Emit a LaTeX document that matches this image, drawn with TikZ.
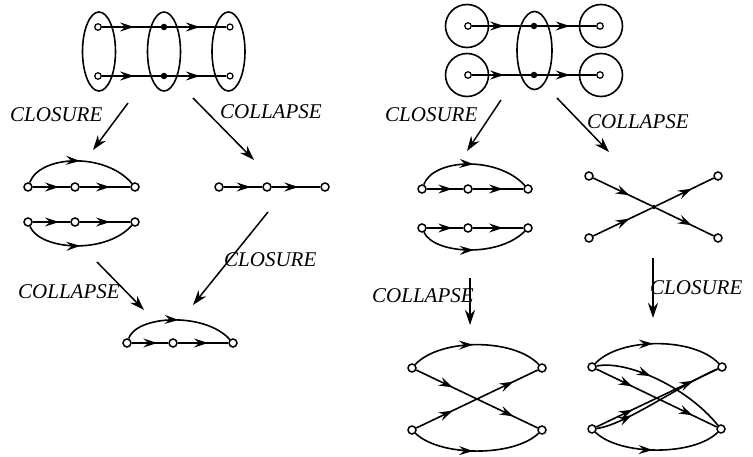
\documentclass[tikz,border=0pt]{standalone}
\usepackage{fontspec}
\setmainfont{Liberation Serif}
\usetikzlibrary{arrows.meta,decorations.markings,shapes.geometric}
\begin{document}
\begin{tikzpicture}[x=1pt,y=-1pt,
 vo/.style={circle,draw,fill=white,inner sep=0pt,minimum size=8pt,line width=1.5pt},
 vd/.style={circle,fill,inner sep=0pt,minimum size=6.5pt},
 vr/.style={circle,draw,fill=white,inner sep=0pt,minimum size=6pt,line width=1.2pt},
 vc/.style={circle,draw,fill=white,inner sep=0pt,minimum size=6.5pt,line width=1.2pt,
   path picture={\fill (path picture bounding box.center) circle (1.3pt);}},
 grp/.style={ellipse,draw,line width=1.6pt,inner sep=0pt,minimum width=33pt,minimum height=79pt},
 ring/.style={circle,draw,line width=1.6pt,inner sep=0pt,minimum size=43pt},
 edge/.style={line width=1.6pt},
 ma/.style={edge,postaction={decorate},decoration={markings,
   mark=at position #1 with {\arrow{Stealth[length=14pt,width=9pt,inset=5pt]}}}},
 ma2/.style 2 args={edge,postaction={decorate},decoration={markings,
   mark=at position #1 with {\arrow{Stealth[length=14pt,width=9pt,inset=5pt]}},
   mark=at position #2 with {\arrow{Stealth[length=14pt,width=9pt,inset=5pt]}}}},
 trans/.style={line width=1.5pt,-{Stealth[length=15pt,width=10pt,inset=5pt]}},
 lab/.style={font=\fontsize{21}{21}\selectfont\itshape,anchor=base west,inner sep=0pt}
]
\useasboundingbox (0,0) rectangle (753,457);

% ---------- top left ----------
\node[grp] (g1) at (99,51.5) {};
\node[grp] (g2) at (164,51.5) {};
\node[grp] (g3) at (228.5,51.5) {};
\node[vc] (p1) at (98,27) {};
\node[vd] (p2) at (164,27) {};
\node[vr] (p3) at (230,27) {};
\node[vc] (q1) at (98,76) {};
\node[vd] (q2) at (164,76) {};
\node[vr] (q3) at (230,76) {};
\draw[ma=0.55] (p1) -- (p2);
\draw[ma=0.55] (p2) -- (p3);
\draw[ma=0.55] (q1) -- (q2);
\draw[ma=0.55] (q2) -- (q3);

% transitions top left
\coordinate (t1s) at (128,103); \coordinate (t1e) at (93,150);
\coordinate (t2s) at (193,98);  \coordinate (t2e) at (254,160);
\draw[trans] (t1s) -- (t1e);
\draw[trans] (t2s) -- (t2e);
\node[lab] (l1) at (10,122) {CLOSURE};
\node[lab] (l2) at (220,119) {COLLAPSE};

% middle left: closure
\node[vo] (a1) at (28,187) {};
\node[vo] (a2) at (75,187) {};
\node[vo] (a3) at (135,187) {};
\draw[ma=0.7] (a1) -- (a2);
\draw[ma=0.6] (a2) -- (a3);
\draw[ma=0.5] (a1) .. controls (40,155) and (105,152) .. (a3);
\node[vo] (b1) at (28,222) {};
\node[vo] (b2) at (75,222) {};
\node[vo] (b3) at (135,222) {};
\draw[ma=0.7] (b1) -- (b2);
\draw[ma=0.6] (b2) -- (b3);
\draw[ma=0.5] (b1) .. controls (40,250) and (105,255) .. (b3);

% middle left: collapse
\node[vo] (c1) at (219,187) {};
\node[vo] (c2) at (267,187) {};
\node[vo] (c3) at (325,187) {};
\draw[ma=0.7] (c1) -- (c2);
\draw[ma=0.55] (c2) -- (c3);

% transitions lower left
\coordinate (t3s) at (97,262); \coordinate (t3e) at (144,310);
\coordinate (t4s) at (268,212); \coordinate (t4e) at (193,305);
\draw[trans] (t3s) -- (t3e);
\draw[trans] (t4s) -- (t4e);
\node[lab] (l3) at (18,299) {COLLAPSE};
\node[lab] (l4) at (224,267) {CLOSURE};

% bottom left result
\node[vo] (d1) at (127,343) {};
\node[vo] (d2) at (173,343) {};
\node[vo] (d3) at (233,343) {};
\draw[ma=0.7] (d1) -- (d2);
\draw[ma=0.6] (d2) -- (d3);
\draw[ma=0.5] (d1) .. controls (137,315) and (205,312) .. (d3);

% ---------- top right ----------
\node[ring] (r1) at (467,26) {};
\node[ring] (r2) at (601,26) {};
\node[ring] (r3) at (467,75) {};
\node[ring] (r4) at (601,75) {};
\node[grp,minimum width=35pt,minimum height=78pt] (g4) at (534.5,50.5) {};
\node[vc] (u1) at (468,26) {};
\node[vd] (u2) at (534,26) {};
\node[vc] (u3) at (600,26) {};
\node[vc] (w1) at (468,75) {};
\node[vd] (w2) at (534,75) {};
\node[vc] (w3) at (600,75) {};
\draw[ma=0.55] (u1) -- (u2);
\draw[ma=0.55] (u2) -- (u3);
\draw[ma=0.55] (w1) -- (w2);
\draw[ma=0.55] (w2) -- (w3);

% transitions top right
\coordinate (t5s) at (501,100); \coordinate (t5e) at (467,151);
\coordinate (t6s) at (557,98);  \coordinate (t6e) at (609,152);
\draw[trans] (t5s) -- (t5e);
\draw[trans] (t6s) -- (t6e);
\node[lab] (l5) at (385,122) {CLOSURE};
\node[lab] (l6) at (587,129) {COLLAPSE};

% middle right: closure
\node[vo] (e1) at (422,189) {};
\node[vo] (e2) at (468,189) {};
\node[vo] (e3) at (528,189) {};
\draw[ma=0.7] (e1) -- (e2);
\draw[ma=0.6] (e2) -- (e3);
\draw[ma=0.5] (e1) .. controls (434,158) and (498,156) .. (e3);
\node[vo] (f1) at (422,228) {};
\node[vo] (f2) at (468,228) {};
\node[vo] (f3) at (528,228) {};
\draw[ma=0.7] (f1) -- (f2);
\draw[ma=0.6] (f2) -- (f3);
\draw[ma=0.5] (f1) .. controls (434,254) and (498,258) .. (f3);

% middle right: collapse (X)
\node[vo] (x1) at (589,176) {};
\node[vo] (x2) at (718,176) {};
\node[vo] (x3) at (589,238) {};
\node[vo] (x4) at (718,238) {};
\node[vd,minimum size=4.5pt] (xc) at (654,207) {};
\draw[ma=0.62] (x1) -- (xc);
\draw[ma=0.62] (x3) -- (xc);
\draw[ma=0.62] (xc) -- (x2);
\draw[ma=0.62] (xc) -- (x4);

% transitions lower right
\coordinate (t7s) at (470,278); \coordinate (t7e) at (470,325);
\coordinate (t8s) at (653,258); \coordinate (t8e) at (653,318);
\draw[trans] (t7s) -- (t7e);
\draw[trans] (t8s) -- (t8e);
\node[lab] (l7) at (372,303) {COLLAPSE};
\node[lab] (l8) at (650,295) {CLOSURE};

% bottom right A
\node[vo] (h1) at (412,368) {};
\node[vo] (h2) at (542,368) {};
\node[vo] (h3) at (412,430) {};
\node[vo] (h4) at (542,430) {};
\draw[ma=0.47] (h1) .. controls (440,338) and (514,338) .. (h2);
\draw[ma=0.47] (h3) .. controls (440,457) and (514,457) .. (h4);
\draw[ma2={0.3}{0.8}] (h1) -- (h4);
\draw[ma2={0.3}{0.8}] (h3) -- (h2);

% bottom right B
\node[vo] (k1) at (592,367) {};
\node[vo] (k2) at (722,367) {};
\node[vo] (k3) at (592,429) {};
\node[vo] (k4) at (721,429) {};
\draw[ma=0.47] (k1) .. controls (620,337) and (694,337) .. (k2);
\draw[ma=0.47] (k3) .. controls (620,456) and (694,456) .. (k4);
\draw[ma2={0.3}{0.8}] (k1) -- (k4);
\draw[ma2={0.3}{0.8}] (k3) -- (k2);
\draw[ma=0.4] (k1) .. controls (625,360) and (685,385) .. (k4);
\draw[ma=0.28] (k3) .. controls (625,425) and (680,385) .. (k2);
\end{tikzpicture}
\end{document}
